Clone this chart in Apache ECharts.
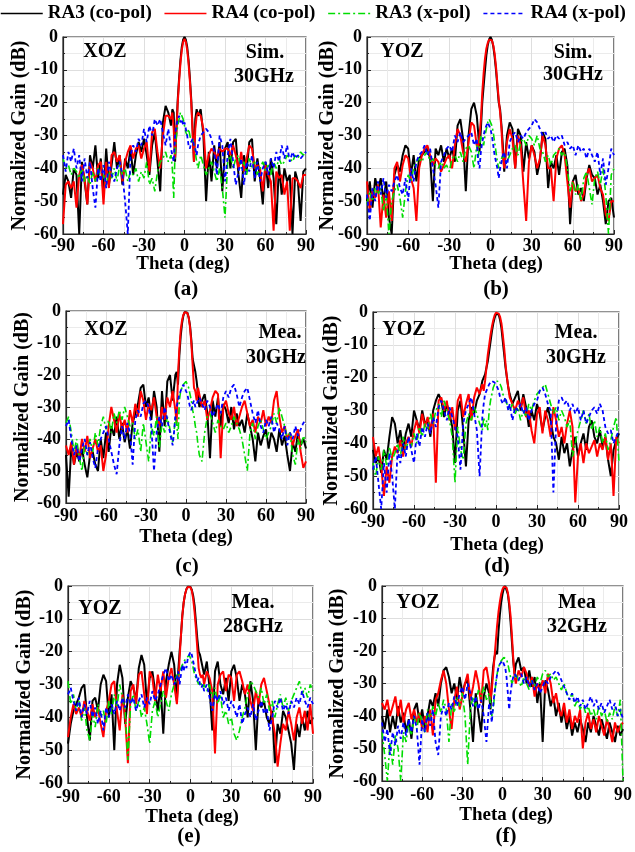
<!DOCTYPE html>
<html><head><meta charset="utf-8">
<script src="https://cdn.jsdelivr.net/npm/echarts@6/dist/echarts.min.js"></script>
<style>html,body{margin:0;padding:0;background:#fff}#c{width:635px;height:852px}</style>
</head><body><div id="c"></div>
<script>
const THETA = [-90,-88,-86,-84,-82,-80,-78,-76,-74,-72,-70,-68,-66,-64,-62,-60,-58,-56,-54,-52,-50,-48,-46,-44,-42,-40,-38,-36,-34,-32,-30,-28,-26,-24,-22,-20,-18,-16,-14,-12,-10,
-9,-8,-7,-6,-5,-4,-3,-2,-1,0,1,2,3,4,5,6,7,8,9,
10,12,14,16,18,20,22,24,26,28,30,32,34,36,38,40,42,44,46,48,50,52,54,56,58,60,62,64,66,68,70,72,74,76,78,80,82,84,86,88,90];
const X_TICKS = [-90,-60,-30,0,30,60,90];
const Y_TICKS = [0,-10,-20,-30,-40,-50,-60];
const NAMES = ['RA3 (co-pol)','RA4 (co-pol)','RA3 (x-pol)','RA4 (x-pol)'];

// (a) XOZ Sim. 30GHz
const A_RA3_CO = [-48,-42,-44,-49,-40,-42,-60,-38,-44,-51,-36,-40,-33,-43,-37,-48,-34,-45,-39,-32,-40,-36,-45,-37,-40,-34,-42,-36,-32,-35,-31,-36,-42,-33,-29,-38,-47,-26,-21,-23,-27,
-22,-23,-38,-28,-19,-12.5,-7,-3,-0.8,0,-0.8,-3,-7,-12.5,-19,-28,-38,-25,-22,
-24,-22,-30,-50,-35,-44,-33,-40,-32,-47,-34,-32,-40,-32,-31,-42,-49,-36,-41,-32,-31,-44,-37,-43,-51,-38,-46,-37,-43,-57,-39,-48,-40,-44,-42,-60,-41,-44,-56,-41,-40];
const A_RA4_CO = [-57,-45,-44,-46,-44,-52,-42,-39,-43,-51,-38,-40,-44,-39,-38,-51,-38,-46,-36,-35,-38,-36,-44,-38,-35,-33,-37,-34,-33,-37,-34,-32,-41,-29,-28,-35,-40,-30,-24,-24,-25,
-23,-28,-37,-29,-20,-13.5,-8,-4,-1.5,-0.6,-1.5,-4,-8,-13.5,-20,-29,-38,-28,-24,
-23,-24,-28,-40,-36,-34,-35,-37,-34,-35,-34,-34,-36,-33,-36,-40,-35,-41,-37,-33,-34,-40,-39,-40,-47,-39,-42,-44,-59,-41,-43,-42,-48,-44,-59,-43,-43,-44,-46,-42,-42];
const A_RA3_X = [-37,-40,-39,-42,-40,-41,-43,-40,-44,-42,-45,-41,-44,-40,-43,-42,-45,-41,-43,-40,-44,-39,-42,-40,-44,-41,-42,-40,-44,-41,-43,-38,-45,-43,-47,-41,-38,-37,-35,-38,-36,
-40,-49,-35,-30,-27,-25,-23,-24,-25,-27,-29,-30,-28,-30,-32,-31,-33,-35,-38,
-40,-36,-39,-42,-40,-38,-41,-44,-40,-46,-55,-38,-36,-40,-37,-36,-40,-38,-42,-37,-40,-38,-42,-40,-38,-41,-39,-42,-38,-40,-37,-39,-38,-36,-37,-38,-36,-37,-35,-36,-35];
const A_RA4_X = [-36,-41,-35,-38,-34,-40,-36,-44,-37,-43,-38,-46,-52,-40,-44,-39,-46,-38,-42,-44,-40,-38,-42,-50,-60,-36,-33,-35,-31,-33,-28,-32,-27,-30,-25,-27,-25,-29,-33,-28,-34,
-36,-38,-30,-27,-25,-24,-26,-25,-27,-26,-28,-30,-33,-34,-32,-31,-33,-34,-36,
-33,-30,-29,-28,-29,-31,-35,-42,-30,-33,-44,-36,-31,-38,-45,-41,-37,-45,-38,-41,-36,-43,-38,-44,-40,-38,-42,-37,-40,-35,-38,-33,-37,-33,-38,-35,-37,-36,-37,-36,-35];

// (b) YOZ Sim. 30GHz
const B_RA3_CO = [-50,-44,-52,-43,-47,-43,-50,-44,-55,-60,-42,-39,-41,-36,-33,-34,-42,-36,-44,-37,-36,-35,-34,-37,-50,-34,-36,-33,-38,-34,-37,-34,-38,-27,-25,-31,-47,-30,-22,-20,-24,
-29,-35,-28,-20,-15,-10,-5.5,-2.5,-0.7,0,-0.8,-2.8,-6,-10,-15,-20,-22,-27,-33,
-41,-30,-26,-28,-40,-28,-30,-41,-32,-37,-33,-35,-42,-38,-29,-31,-46,-38,-40,-36,-42,-35,-34,-39,-57,-44,-42,-48,-46,-50,-43,-39,-42,-43,-48,-45,-50,-57,-50,-49,-55];
const B_RA4_CO = [-44,-53,-47,-49,-45,-58,-48,-55,-47,-56,-40,-38,-44,-39,-36,-37,-43,-46,-56,-40,-36,-34,-33,-36,-39,-37,-38,-41,-39,-37,-36,-40,-33,-28,-30,-35,-38,-32,-26,-27,-33,
-34,-30,-25,-17,-11,-6.5,-3.5,-1.8,-0.8,-0.5,-1,-2.5,-5,-9,-14,-19,-23,-28,-36,
-40,-32,-28,-31,-40,-30,-33,-45,-56,-38,-33,-36,-40,-37,-30,-33,-40,-40,-50,-37,-34,-33,-36,-44,-52,-44,-47,-46,-50,-48,-42,-40,-44,-43,-42,-46,-48,-54,-56,-50,-50];
const B_RA3_X = [-51,-47,-50,-46,-48,-46,-53,-48,-60,-50,-47,-45,-49,-55,-47,-42,-44,-40,-38,-37,-38,-36,-35,-38,-37,-39,-40,-38,-40,-39,-41,-37,-36,-38,-35,-38,-34,-33,-35,-40,-33,
-37,-33,-30,-31,-33,-30,-28,-26,-25,-25,-27,-29,-32,-35,-38,-40,-38,-37,-36,
-37,-38,-36,-34,-33,-36,-32,-31,-33,-30,-31,-33,-30,-34,-35,-38,-36,-39,-36,-35,-34,-36,-35,-40,-47,-44,-48,-45,-50,-43,-41,-46,-51,-43,-41,-45,-40,-48,-60,-42,-40];
const B_RA4_X = [-48,-56,-46,-50,-44,-48,-43,-49,-45,-47,-44,-42,-46,-48,-43,-50,-40,-44,-38,-36,-35,-33,-36,-34,-40,-45,-52,-38,-36,-34,-33,-35,-30,-32,-29,-32,-31,-30,-29,-33,-31,
-38,-40,-35,-32,-30,-28,-27,-26,-27,-28,-30,-33,-36,-38,-40,-43,-40,-38,-36,
-35,-40,-32,-30,-29,-32,-30,-31,-29,-28,-27,-25,-26,-28,-30,-29,-31,-30,-32,-30,-31,-30,-33,-32,-34,-33,-36,-33,-35,-34,-37,-34,-36,-38,-35,-42,-37,-45,-40,-34,-36];

// (c) XOZ Mea. 30GHz
const C_RA3_CO = [-45,-58,-42,-48,-44,-47,-43,-48,-52,-45,-44,-48,-50,-40,-46,-38,-44,-36,-39,-33,-40,-35,-41,-37,-43,-35,-32,-29,-24,-23,-30,-27,-34,-25,-30,-44,-25,-36,-22,-20,-28,
-24,-20,-19,-23,-14,-8,-4,-1.5,-0.3,0,-0.5,-2,-4.5,-9,-15,-17,-19,-22,-26,
-30,-28,-26,-32,-46,-28,-33,-27,-36,-29,-31,-35,-30,-37,-32,-36,-34,-38,-32,-36,-40,-47,-38,-42,-39,-37,-43,-38,-40,-44,-37,-42,-39,-45,-50,-41,-44,-38,-42,-40,-43];
const C_RA4_CO = [-42,-45,-41,-48,-42,-46,-40,-44,-39,-46,-43,-40,-44,-42,-50,-45,-36,-30,-34,-38,-32,-37,-34,-38,-31,-35,-29,-33,-25,-28,-34,-29,-31,-27,-33,-36,-30,-34,-27,-30,-25,
-28,-31,-35,-20,-12,-6,-3,-1.2,-0.4,-0.2,-0.6,-2,-5,-10,-17,-24,-25,-28,-24,
-26,-30,-28,-34,-31,-27,-25,-26,-46,-30,-28,-32,-34,-30,-36,-33,-30,-28,-32,-36,-34,-38,-33,-35,-31,-36,-33,-35,-28,-25,-33,-38,-36,-40,-38,-42,-39,-37,-44,-49,-47];
const C_RA3_X = [-35,-33,-38,-44,-40,-46,-50,-42,-45,-40,-44,-38,-42,-36,-33,-37,-34,-38,-32,-35,-31,-34,-30,-33,-36,-35,-40,-37,-44,-35,-41,-47,-36,-39,-33,-43,-35,-38,-33,-37,-41,
-38,-33,-35,-40,-28,-25,-24,-23,-22.5,-22,-23,-24,-26,-28,-31,-33,-36,-38,-42,
-45,-47,-38,-33,-32,-35,-38,-34,-36,-37,-35,-38,-36,-33,-35,-37,-40,-45,-50,-38,-35,-40,-36,-34,-37,-40,-38,-36,-32,-35,-30,-33,-36,-40,-38,-45,-48,-40,-43,-39,-41];
const C_RA4_X = [-36,-34,-40,-45,-42,-47,-43,-40,-45,-41,-46,-49,-43,-40,-38,-36,-40,-44,-48,-51,-42,-36,-40,-35,-38,-48,-34,-31,-33,-29,-28,-30,-36,-50,-38,-33,-36,-30,-34,-38,-42,
-38,-33,-30,-28,-26,-25,-24,-23,-24,-25,-26,-28,-30,-31,-29,-28,-30,-29,-28,
-27,-29,-31,-28,-30,-33,-31,-29,-32,-27,-25,-27,-24,-23,-26,-30,-27,-25,-24,-28,-32,-35,-31,-36,-38,-34,-36,-33,-38,-35,-37,-40,-36,-42,-38,-40,-36,-39,-37,-35,-34];

// (d) YOZ Mea. 30GHz
const D_RA3_CO = [-42,-46,-44,-49,-42,-45,-38,-32,-34,-40,-36,-42,-37,-34,-38,-30,-33,-36,-30,-34,-33,-38,-30,-27,-25,-27,-32,-28,-31,-35,-46,-30,-27,-36,-47,-33,-29,-31,-27,-25,-21,
-20,-19,-17,-15,-12,-9,-6,-3.5,-1.8,-0.6,0,-0.8,-2.5,-5,-9,-13,-17,-20,-23,
-25,-28,-26,-24,-30,-25,-29,-35,-30,-33,-28,-31,-36,-32,-29,-33,-38,-40,-45,-38,-43,-40,-47,-42,-38,-44,-40,-37,-42,-35,-33,-38,-40,-36,-41,-38,-45,-50,-42,-39,-37];
const D_RA4_CO = [-38,-44,-41,-47,-56,-47,-52,-44,-41,-43,-39,-44,-40,-38,-41,-36,-33,-37,-31,-35,-32,-36,-31,-52,-27,-26,-30,-27,-33,-29,-36,-27,-25,-32,-28,-25,-33,-26,-23,-25,-22,
-24,-21,-17,-13,-10,-7,-4.5,-2.5,-1,-0.2,0,-0.5,-1.5,-3.5,-7,-11,-16,-20,-23,
-26,-28,-30,-27,-29,-26,-32,-30,-36,-40,-31,-29,-37,-30,-33,-38,-29,-33,-38,-35,-40,-34,-30,-35,-58,-44,-40,-46,-40,-43,-41,-39,-44,-40,-42,-38,-45,-40,-56,-38,-40];
const D_RA3_X = [-46,-50,-44,-48,-42,-47,-41,-45,-43,-40,-44,-38,-42,-39,-41,-37,-40,-35,-38,-34,-36,-31,-34,-30,-28,-32,-27,-30,-33,-38,-52,-35,-42,-45,-34,-31,-33,-29,-31,-34,-36,
-32,-35,-33,-36,-30,-27,-25,-23,-22,-21.5,-21,-21.5,-22,-23,-25,-26,-27,-28,-29,
-30,-28,-31,-29,-33,-30,-32,-28,-30,-27,-25,-24,-23,-22,-25,-28,-31,-29,-33,-30,-32,-35,-33,-44,-40,-36,-33,-30,-34,-31,-36,-33,-38,-35,-40,-37,-42,-39,-35,-32,-46];
const D_RA4_X = [-48,-44,-52,-60,-46,-55,-43,-50,-60,-42,-46,-40,-44,-38,-42,-46,-37,-41,-35,-38,-34,-37,-32,-35,-29,-27,-30,-33,-29,-32,-35,-38,-48,-34,-30,-28,-26,-31,-36,-50,-32,
-28,-25,-24,-23,-22,-21.5,-21,-21,-21.5,-22,-23,-24,-26,-27,-28,-27,-26,-28,-30,
-28,-33,-29,-30,-28,-31,-29,-33,-30,-28,-27,-24,-23,-25,-28,-30,-55,-34,-27,-26,-28,-27,-30,-28,-31,-29,-33,-30,-34,-32,-30,-29,-31,-28,-30,-35,-37,-36,-40,-38,-36];

// (e) YOZ Mea. 28GHz
const E_RA3_CO = [-48,-42,-38,-36,-34,-31,-30,-40,-47,-35,-34,-38,-30,-27,-29,-40,-33,-50,-30,-24,-28,-42,-34,-29,-31,-35,-25,-21,-24,-36,-28,-26,-32,-38,-30,-45,-29,-24,-20,-24,-35,
-26,-20,-15,-9,-5,-2.5,-1,-0.2,0,-0.3,-1.2,-3,-6,-11,-16,-20,-21,-23,-25,
-27,-23,-31,-44,-26,-23,-30,-33,-28,-35,-26,-24,-28,-35,-30,-33,-40,-29,-35,-50,-34,-37,-35,-40,-42,-38,-54,-42,-45,-38,-40,-44,-48,-56,-42,-46,-40,-44,-38,-42,-40];
const E_RA4_CO = [-46,-40,-36,-39,-37,-40,-35,-38,-41,-36,-40,-37,-42,-46,-38,-35,-30,-29,-38,-44,-33,-40,-54,-32,-30,-36,-27,-26,-33,-39,-26,-28,-35,-27,-32,-26,-34,-28,-25,-30,-36,
-30,-22,-15,-9,-5,-2.5,-1,-0.3,0,-0.4,-1.5,-4,-8,-13,-19,-25,-27,-28,-27,
-30,-26,-28,-32,-51,-30,-27,-26,-32,-27,-28,-35,-27,-26,-29,-33,-30,-35,-38,-32,-36,-30,-28,-32,-36,-40,-45,-55,-48,-42,-44,-38,-42,-47,-40,-37,-42,-38,-44,-36,-45];
const E_RA3_X = [-29,-36,-33,-38,-35,-41,-37,-44,-47,-39,-43,-36,-40,-38,-42,-35,-39,-33,-37,-30,-34,-38,-53,-36,-33,-38,-35,-40,-37,-42,-48,-38,-35,-40,-36,-32,-35,-38,-33,-30,-27,
-28,-26,-25,-24,-23,-22.5,-22,-21.5,-21,-22,-23,-25,-27,-28,-29,-30,-29,-30,-31,
-30,-32,-30,-34,-31,-36,-33,-40,-38,-42,-40,-45,-47,-44,-40,-37,-33,-29,-30,-32,-34,-31,-36,-33,-38,-35,-40,-36,-33,-37,-34,-38,-35,-33,-31,-29,-33,-31,-34,-30,-32];
const E_RA4_X = [-33,-31,-35,-38,-34,-40,-36,-39,-35,-40,-37,-42,-38,-44,-37,-40,-36,-39,-35,-38,-34,-37,-33,-36,-34,-38,-35,-33,-37,-34,-36,-32,-35,-33,-30,-27,-25,-29,-27,-30,-28,
-26,-30,-27,-24,-26,-23,-25,-22,-21,-20,-21,-23,-25,-27,-29,-28,-30,-31,-30,
-32,-30,-34,-38,-33,-35,-32,-36,-34,-38,-35,-37,-40,-36,-42,-39,-37,-40,-36,-41,-38,-35,-39,-37,-44,-40,-35,-37,-34,-38,-36,-39,-35,-37,-34,-36,-32,-35,-37,-34,-36];

// (f) YOZ Mea 32GHz
const F_RA3_CO = [-40,-44,-38,-45,-40,-44,-37,-42,-39,-45,-41,-47,-38,-36,-42,-38,-44,-40,-35,-37,-33,-37,-30,-26,-25,-28,-33,-30,-35,-28,-33,-30,-29,-38,-48,-33,-39,-45,-34,-30,-33,
-38,-30,-25,-22,-20,-21,-14,-9,-5,-2.5,-0.7,0,-0.6,-2.5,-6,-11,-17,-23,-27,
-24,-22,-26,-25,-30,-26,-31,-28,-36,-30,-48,-29,-32,-37,-34,-40,-36,-42,-38,-44,-40,-46,-42,-45,-41,-44,-48,-42,-45,-40,-43,-46,-41,-44,-47,-42,-45,-48,-43,-46,-44];
const F_RA4_CO = [-36,-38,-35,-40,-37,-34,-40,-35,-42,-38,-36,-41,-38,-42,-39,-44,-40,-45,-38,-46,-35,-33,-29,-26,-30,-38,-44,-35,-31,-38,-34,-30,-27,-35,-31,-26,-30,-36,-26,-25,-30,
-35,-32,-27,-22,-17,-12,-8,-5,-2.5,-1,-0.2,0,-0.5,-2,-5,-9,-15,-22,-28,
-30,-26,-28,-25,-27,-31,-28,-34,-30,-32,-29,-33,-27,-30,-36,-33,-38,-40,-36,-42,-38,-44,-40,-42,-38,-50,-42,-39,-44,-41,-45,-40,-43,-46,-41,-44,-48,-42,-45,-43,-42];
const F_RA3_X = [-45,-52,-60,-48,-55,-46,-50,-60,-45,-48,-42,-46,-40,-44,-39,-42,-45,-38,-41,-37,-40,-36,-39,-35,-38,-48,-36,-39,-34,-37,-33,-40,-55,-38,-34,-37,-32,-34,-31,-35,-33,
-36,-40,-38,-34,-30,-27,-25,-24,-23,-22.5,-22,-22,-22.5,-24,-26,-28,-30,-29,-28,
-27,-29,-31,-28,-30,-32,-29,-31,-28,-30,-27,-26,-28,-27,-29,-28,-30,-32,-30,-33,-35,-33,-37,-35,-38,-36,-39,-37,-40,-38,-41,-37,-40,-38,-42,-39,-41,-37,-40,-35,-60];
const F_RA4_X = [-42,-48,-44,-52,-45,-49,-43,-47,-42,-46,-41,-45,-40,-44,-55,-41,-45,-39,-43,-38,-48,-52,-40,-37,-40,-36,-38,-34,-37,-33,-31,-35,-30,-33,-37,-34,-38,-35,-40,-48,-36,
-38,-42,-37,-33,-30,-27,-25,-24,-23.5,-23,-23.5,-25,-28,-33,-38,-33,-30,-28,-27,
-27,-29,-27,-30,-28,-31,-29,-32,-30,-33,-31,-29,-30,-28,-27,-26,-27,-29,-31,-33,-35,-33,-36,-34,-37,-35,-38,-36,-34,-37,-35,-38,-36,-39,-37,-35,-38,-36,-40,-38,-41];

const FONT = '"Liberation Serif","Times New Roman",serif';
const STYLES = [
  {color:'#000000', width:2, type:'solid'},
  {color:'#ff0000', width:2, type:'solid'},
  {color:'#00dd00', width:1.6, type:[7,3,2,3]},
  {color:'#0000ff', width:1.8, type:[4,3]}
];
const PANELS = [
  {data:[A_RA3_CO,A_RA4_CO,A_RA3_X,A_RA4_X], plane:'XOZ', l1:'Sim.', l2:'30GHz', label:'(a)',
   g:[63,37,243,197], pl:[105,52], t1:[265,53], t2:[264,77], lb:[186,290], xn:[183,264], yn:20, lm:3},
  {data:[B_RA3_CO,B_RA4_CO,B_RA3_X,B_RA4_X], plane:'YOZ', l1:'Sim.', l2:'30GHz', label:'(b)',
   g:[367,37,247,197], pl:[402,52], t1:[573,53], t2:[573,75], lb:[496,290], xn:[496,264], yn:328, lm:3},
  {data:[C_RA3_CO,C_RA4_CO,C_RA3_X,C_RA4_X], plane:'XOZ', l1:'Mea.', l2:'30GHz', label:'(c)',
   g:[66,311,240,192], pl:[106,330], t1:[280,333], t2:[276,358], lb:[187,567], xn:[186,537], yn:23, lm:4},
  {data:[D_RA3_CO,D_RA4_CO,D_RA3_X,D_RA4_X], plane:'YOZ', l1:'Mea.', l2:'30GHz', label:'(d)',
   g:[373,312,246,197], pl:[404,330], t1:[576,333], t2:[576,358], lb:[497,567], xn:[497,545], yn:332, lm:4},
  {data:[E_RA3_CO,E_RA4_CO,E_RA3_X,E_RA4_X], plane:'YOZ', l1:'Mea.', l2:'28GHz', label:'(e)',
   g:[68,586,245,197], pl:[100,609], t1:[253,603], t2:[253,627], lb:[189,837], xn:[192,817], yn:25, lm:5},
  {data:[F_RA3_CO,F_RA4_CO,F_RA3_X,F_RA4_X], plane:'YOZ', l1:'Mea', l2:'32GHz', label:'(f)',
   g:[382,586,244,195], pl:[418,603], t1:[577,603], t2:[577,627], lb:[506,837], xn:[506,815], yn:338, lm:5}
];
PANELS.forEach(p=>p.data.forEach(a=>{ if(a.length!==THETA.length) throw new Error('length '+a.length+' '+p.label); }));

const grids=[], xAxes=[], yAxes=[], series=[], graphics=[];
const txt=(x,y,text,size,rot)=>({type:'text', x, y, rotation:rot||0, z:100,
  style:{text, font:'bold '+size+'px '+FONT, fill:'#000', align:'center', verticalAlign:'middle'}});
const axisCommon = (lm)=>({
  axisLine:{show:true, onZero:false, lineStyle:{color:'#262626', width:1.2}},
  axisTick:{show:true, inside:true, length:4, lineStyle:{color:'#262626'}},
  minorTick:{show:true, splitNumber:2, length:2, lineStyle:{color:'#262626'}},
  axisLabel:{margin:lm, fontFamily:FONT, fontWeight:'bold', fontSize:18, color:'#000'},
  splitLine:{show:true, lineStyle:{color:'#dedede', width:1}},
  minorSplitLine:{show:true, lineStyle:{color:'#ebebeb', width:1}}
});
PANELS.forEach((p,i)=>{
  grids.push({left:p.g[0], top:p.g[1], width:p.g[2], height:p.g[3], show:true, borderColor:'#262626', borderWidth:1.2, containLabel:false});
  xAxes.push(Object.assign({gridIndex:i, type:'value', min:X_TICKS[0], max:X_TICKS[X_TICKS.length-1], interval:30}, axisCommon(p.lm)));
  yAxes.push(Object.assign({gridIndex:i, type:'value', min:Y_TICKS[Y_TICKS.length-1], max:Y_TICKS[0], interval:10}, axisCommon(5)));
  p.data.forEach((arr,s)=>{
    series.push({type:'line', name:NAMES[s], xAxisIndex:i, yAxisIndex:i, symbol:'none', showSymbol:false,
      animation:false, z:2+s, color:STYLES[s].color,
      lineStyle:{color:STYLES[s].color, width:STYLES[s].width, type:STYLES[s].type},
      data:THETA.map((t,k)=>[t,arr[k]])});
  });
  graphics.push(txt(p.pl[0],p.pl[1],p.plane,20));
  graphics.push(txt(p.t1[0],p.t1[1],p.l1,20));
  graphics.push(txt(p.t2[0],p.t2[1],p.l2,20));
  graphics.push(txt(p.lb[0],p.lb[1],p.label,21));
  graphics.push(txt(p.xn[0],p.xn[1],'Theta (deg)',19));
  graphics.push(txt(p.yn,p.g[1]+p.g[3]/2,'Normalized Gain (dB)',20,Math.PI/2));
});

const chart = echarts.init(document.getElementById('c'), null, {renderer:'canvas'});
chart.setOption({
  animation:false,
  backgroundColor:'#fff',
  legend:{data:NAMES, top:4, left:0, itemWidth:42, itemHeight:14, itemGap:12, padding:0,
    itemStyle:{opacity:0}, lineStyle:{width:1.5},
    textStyle:{fontFamily:FONT, fontWeight:'bold', fontSize:19, color:'#000'}},
  grid:grids, xAxis:xAxes, yAxis:yAxes, series, graphic:graphics
});
</script></body></html>
